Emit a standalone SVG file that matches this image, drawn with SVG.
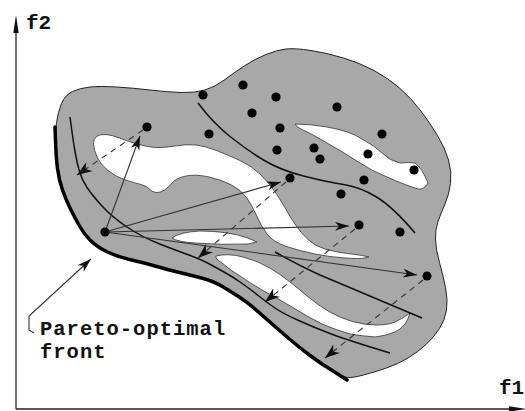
<svg xmlns="http://www.w3.org/2000/svg" width="525" height="411" viewBox="0 0 525 411">
<style>
.lbl{font-family:"Liberation Mono","DejaVu Sans Mono",monospace;font-weight:bold;fill:#111}
.blob{fill:#a8a8a8;stroke:#222;stroke-width:1}
.hole{fill:#fff;stroke:#333;stroke-width:0.8}
.front{fill:none;stroke:#111;stroke-width:1.5}
.pf{fill:none;stroke:#000;stroke-width:3.5;stroke-linecap:round}
.arr{fill:none;stroke:#333;stroke-width:1.1;marker-end:url(#ah)}
.dash{fill:none;stroke:#333;stroke-width:1.1;stroke-dasharray:6,5;marker-end:url(#ahd)}
.dot{fill:#000}
.axis{stroke:#222;stroke-width:1.3;fill:none}
</style>
<defs>
<marker id="ah" markerUnits="userSpaceOnUse" markerWidth="14" markerHeight="9" refX="14" refY="4.5" orient="auto"><path d="M0,0 L14,4.5 L0,9 L4,4.5 Z" fill="#111"/></marker>
<marker id="ahd" markerUnits="userSpaceOnUse" markerWidth="15" markerHeight="11" refX="15" refY="5.5" orient="auto"><path d="M0,0 L15,5.5 L0,11 L4.5,5.5 Z" fill="#111"/></marker>
</defs>
<g id="axes">
<line class="axis" x1="16" y1="409" x2="16" y2="30"/>
<polygon points="16,15 13.3,33 18.7,33" fill="#111"/>
<line class="axis" x1="16" y1="409" x2="512" y2="409"/>
<polygon points="526,409 509,406.3 509,411.7" fill="#111"/>
<text class="lbl" x="26" y="29" font-size="21">f2</text>
<text class="lbl" x="499" y="394" font-size="21">f1</text>
</g>
<g id="region">
<path class="blob" d="M61.5,103.5 Q65,95 72.5,91.5 Q80,88 90,87 Q100,86 116.5,87 Q133,88 150,90 Q167,92 181,92.5 Q195,93 205,90 Q215,87 225,79.5 Q235,72 245,65.5 Q255,59 266,54.5 Q277,50 286,49 Q295,48 311,50.5 Q327,53 343.5,58 Q360,63 374,70.5 Q388,78 399.5,88 Q411,98 420.5,110.5 Q430,123 437.5,135.5 Q445,148 448.5,160 Q452,172 450.5,183.5 Q449,195 445,204 Q441,213 438,221.5 Q435,230 435.5,240 Q436,250 439.5,262.5 Q443,275 445.5,287.5 Q448,300 446.5,310 Q445,320 439.5,328.5 Q434,337 426,344.5 Q418,352 408,358 Q398,364 386.5,368 Q375,372 363.5,375 Q352,378 347.5,377.5 Q343,377 331.5,370 Q320,363 310,355.5 Q300,348 290,339.5 Q280,331 271,323 Q262,315 254.5,308.5 Q247,302 238.5,296.5 Q230,291 221.5,286 Q213,281 201.5,278 Q190,275 177.5,272 Q165,269 155,266 Q145,263 131.5,260 Q118,257 107.5,252 Q97,247 90.5,240.5 Q84,234 79.5,226 Q75,218 70.5,209 Q66,200 62.5,190 Q59,180 57.5,168.5 Q56,157 55.5,145 Q55,133 56.5,122.5 Q58,112 61.5,103.5 Z"/>
<path class="hole" d="M93.5,144.5 Q93,139 96.5,136.5 Q100,134 106,134.5 Q112,135 119.5,138 Q127,141 137,144 Q147,147 155,147.5 Q163,148 175,146 Q187,144 196,145 Q205,146 216.5,150.5 Q228,155 240,160.5 Q252,166 261,175 Q270,184 276.5,194 Q283,204 287.5,212 Q292,220 297,227 Q302,234 308.5,240 Q315,246 325,249 Q335,252 347.5,253.5 Q360,255 364.5,256 L369,257 L364.5,258 Q360,259 345,258 Q330,257 315,254 Q300,251 286.5,246.5 Q273,242 267,234 Q261,226 256.5,215.5 Q252,205 246.5,197.5 Q241,190 231.5,185 Q222,180 209,177 Q196,174 186,176 Q176,178 172.5,182.5 Q169,187 164.5,190 Q160,193 156,192.5 Q152,192 149.5,189 Q147,186 141,184.5 Q135,183 125.5,180 Q116,177 108,170.5 Q100,164 97,157 Q94,150 93.5,144.5 Z"/>
<path class="hole" d="M172,238 Q180,232 200,231 Q228,231 248,238 L257,242 L248,244 Q220,245 195,243 Q178,242 172,238 Z"/>
<path class="hole" d="M216,256 Q228,253 243,257 Q258,261 269,267.5 Q280,274 290,282 Q300,290 309,297.5 Q318,305 329,311.5 Q340,318 352.5,321.5 Q365,325 376.5,325 Q388,325 395,322 Q402,319 410,313 Q408,320 405,324 Q400,330 395,332 Q385,336 375,337 Q362,336 350,334 Q336,330 322,324 Q306,316 292,307 Q277,298 262,290 Q250,283 240,276 Q230,270 222,263 Q215,259 216,256 Z"/>
<path class="hole" d="M295,124 Q310,124 327,127 Q350,131 362,139 Q375,146 382,153 Q390,161 400,163 Q410,162 415,163 Q422,168 428,183 Q424,190 418,189 Q405,185 387,177 Q372,171 360,163 Q343,152 327,143 Q312,134 303,130 Q296,127 295,124 Z"/>
</g>
<g id="fronts">
<path class="pf" d="M55,127 L55.5,140 Q56,157 57.5,168.5 Q59,180 62.5,190 Q66,200 70.5,209 Q75,218 79.5,226 Q84,234 90.5,240.5 Q97,247 107.5,252 Q118,257 131.5,260 Q145,263 155,266 Q165,269 177.5,272 Q190,275 201.5,278 Q213,281 221.5,286 Q230,291 238.5,296.5 Q247,302 254.5,308.5 Q262,315 271,323 Q280,331 290,339.5 Q300,348 310,355.5 Q320,363 333,371 L347,380"/>
<path class="front" d="M70,117 Q73,140 75,151.5 Q77,163 79.5,171.5 Q82,180 87,187.5 Q92,195 102,206 Q112,217 127,227 Q142,237 158.5,243.5 Q175,250 187.5,254.5 Q200,259 207.5,263 Q215,267 224,272 Q233,277 241.5,283 Q250,289 257.5,295 Q265,301 273.5,307 Q282,313 297.5,320 Q313,327 330,333.5 Q347,340 390,353"/>
<path class="front" d="M198,103 Q213,123 230,136.5 Q247,150 263.5,160 Q280,170 303.5,176 Q327,182 343.5,184.5 Q360,187 376.5,197 Q393,207 415,233"/>
<path class="front" d="M275,252 Q300,266 320,275 L422,318"/>
</g>
<g id="connectors">
<line class="dash" x1="143" y1="130" x2="77" y2="175"/>
<line class="dash" x1="286" y1="182" x2="198" y2="258"/>
<line class="dash" x1="355" y1="229" x2="265" y2="302"/>
<line class="dash" x1="423" y1="280" x2="325" y2="358"/>
<line class="arr" x1="105" y1="232" x2="140" y2="136"/>
<line class="arr" x1="105" y1="232" x2="281" y2="182"/>
<line class="arr" x1="105" y1="232" x2="349" y2="226"/>
<line class="arr" x1="105" y1="232" x2="417" y2="275"/>
<path class="arr" d="M34,333 L29,330 L29,316 L91,259"/>
</g>
<g id="points">
<circle class="dot" cx="105" cy="232" r="4.6"/>
<circle class="dot" cx="147" cy="127" r="4.6"/>
<circle class="dot" cx="203" cy="95" r="4.6"/>
<circle class="dot" cx="243" cy="85" r="4.6"/>
<circle class="dot" cx="276" cy="97" r="4.6"/>
<circle class="dot" cx="252" cy="113" r="4.6"/>
<circle class="dot" cx="337" cy="107" r="4.6"/>
<circle class="dot" cx="209" cy="134" r="4.6"/>
<circle class="dot" cx="280" cy="128" r="4.6"/>
<circle class="dot" cx="382" cy="134" r="4.6"/>
<circle class="dot" cx="277" cy="150" r="4.6"/>
<circle class="dot" cx="314" cy="148" r="4.6"/>
<circle class="dot" cx="320" cy="159" r="4.6"/>
<circle class="dot" cx="368" cy="154" r="4.6"/>
<circle class="dot" cx="414" cy="170" r="4.6"/>
<circle class="dot" cx="290" cy="178" r="4.6"/>
<circle class="dot" cx="364" cy="180" r="4.6"/>
<circle class="dot" cx="341" cy="194" r="4.6"/>
<circle class="dot" cx="359" cy="225" r="4.6"/>
<circle class="dot" cx="400" cy="232" r="4.6"/>
<circle class="dot" cx="427" cy="276" r="4.6"/>
</g>
<g id="label">
<text class="lbl" x="40" y="335" font-size="20.5" letter-spacing="1">Pareto-optimal</text>
<text class="lbl" x="40" y="358" font-size="20.5" letter-spacing="1">front</text>
</g>
</svg>
